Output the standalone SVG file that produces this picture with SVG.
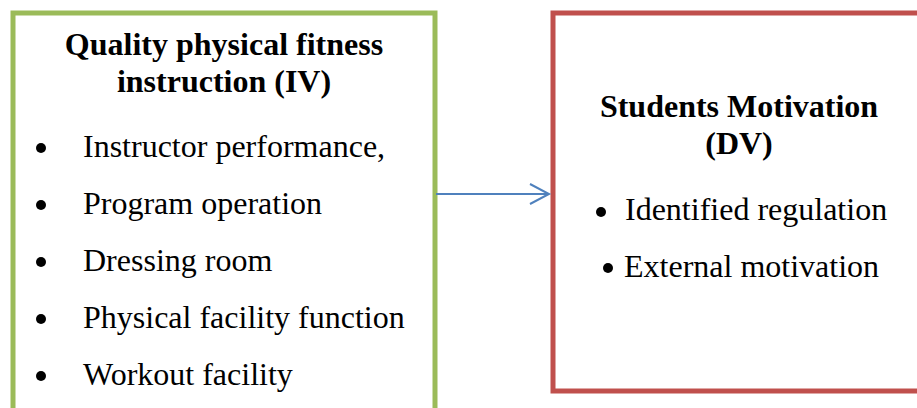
<svg xmlns="http://www.w3.org/2000/svg" width="917" height="408" viewBox="0 0 917 408">
  <style>
    .box { fill: #ffffff; stroke-width: 5; }
    .title { font-family: "Liberation Serif", "Times New Roman", serif; font-size: 32px; font-weight: bold; fill: #000; text-anchor: middle; }
    .item { font-family: "Liberation Serif", "Times New Roman", serif; font-size: 32px; fill: #000; }
    .dot { fill: #000; }
    .conn { fill: none; stroke: #4F81BD; stroke-width: 2; }
  </style>
  <rect x="0" y="0" width="917" height="408" fill="#ffffff"/>

  <g id="iv-node">
    <rect class="box" x="13" y="13" width="422" height="420" stroke="#9BBB59"/>
    <text class="title" x="224" y="55">Quality physical fitness</text>
    <text class="title" x="224" y="92">instruction (IV)</text>
    <circle class="dot" cx="41" cy="148" r="5"/>
    <text class="item" x="83" y="157">Instructor performance,</text>
    <circle class="dot" cx="41" cy="205" r="5"/>
    <text class="item" x="83" y="214">Program operation</text>
    <circle class="dot" cx="41" cy="262" r="5"/>
    <text class="item" x="83" y="271">Dressing room</text>
    <circle class="dot" cx="41" cy="319" r="5"/>
    <text class="item" x="83" y="328">Physical facility function</text>
    <circle class="dot" cx="41" cy="376" r="5"/>
    <text class="item" x="83" y="385">Workout facility</text>
  </g>

  <g id="dv-node">
    <rect class="box" x="553" y="13" width="380" height="378" stroke="#C0504D"/>
    <text class="title" x="739" y="117">Students Motivation</text>
    <text class="title" x="739" y="154">(DV)</text>
    <circle class="dot" cx="601" cy="212" r="5"/>
    <text class="item" x="625" y="220">Identified regulation</text>
    <circle class="dot" cx="608" cy="268" r="5"/>
    <text class="item" x="624" y="277">External motivation</text>
  </g>

  <g id="connectors">
    <line class="conn" x1="436" y1="194" x2="549" y2="194"/>
    <polyline class="conn" points="530,184 549,194 530,204"/>
  </g>
</svg>
